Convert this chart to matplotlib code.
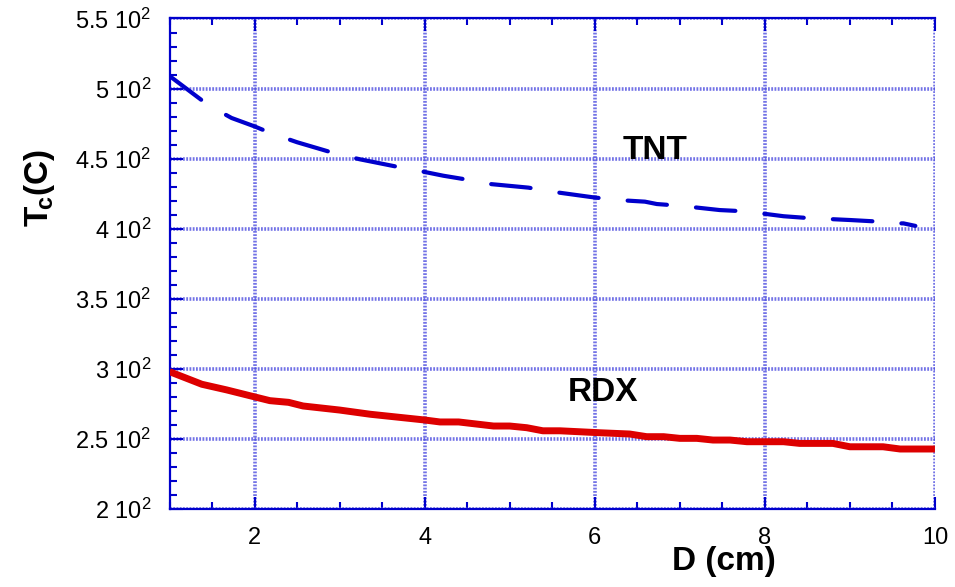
import matplotlib
matplotlib.use("Agg")
import matplotlib.pyplot as plt
from matplotlib.ticker import MultipleLocator, FixedLocator

plt.rcParams['font.family'] = ['Liberation Sans', 'DejaVu Sans']
plt.rcParams['mathtext.fontset'] = 'custom'
plt.rcParams['mathtext.rm'] = 'Liberation Sans'
plt.rcParams['mathtext.it'] = 'Liberation Sans:italic'
plt.rcParams['mathtext.bf'] = 'Liberation Sans:bold'

# Data
tnt_x = [1.0, 1.46, 1.73, 2.0, 2.2, 2.5, 2.97, 3.24, 3.71, 4.0, 4.22, 4.45, 4.75,
         5.22, 5.5, 5.98, 6.26, 6.59, 6.73, 7.0, 7.47, 7.77, 8.22, 8.51, 9.0,
         9.27, 9.39, 9.63, 9.77]
tnt_y = [509, 488, 479, 473, 468, 461.7, 453.3, 449.5, 443.8, 440.5, 437.8, 435.5,
         432, 429.3, 426.4, 422.4, 420.5, 419.3, 417.6, 416.4, 413.3, 412.4, 408.9,
         407.6, 406.2, 405.3, 403.8, 403.8, 402]
rdx_x = [1.0, 1.38, 1.67, 2.0, 2.18, 2.4, 2.57, 3.0, 3.36, 4.0, 4.18, 4.4, 4.81, 5.0,
         5.2, 5.39, 5.59, 6.06, 6.41, 6.61, 6.81, 7.0, 7.2, 7.39, 7.59, 7.79, 8.22,
         8.41, 8.8, 9.0, 9.39, 9.59, 10.0]
rdx_y = [298, 289, 285, 280, 277.3, 276.1, 273.5, 270.6, 267.6, 263.5, 262.1, 262.1,
         259.2, 259.2, 258, 255.8, 255.8, 254.4, 253.5, 251.6, 251.6, 250.4, 250.4,
         249.2, 249.2, 248, 248, 246.8, 246.8, 244.4, 244.4, 242.8, 242.8]
x_ticks = [2, 4, 6, 8, 10]
x_ticklabels = ['2', '4', '6', '8', '10']
y_ticks = [200, 250, 300, 350, 400, 450, 500, 550]
y_ticklabels = ['2 10$^{2}$', '2.5 10$^{2}$', '3 10$^{2}$', '3.5 10$^{2}$',
                '4 10$^{2}$', '4.5 10$^{2}$', '5 10$^{2}$', '5.5 10$^{2}$']

blue = '#0000cc'
grid_c = '#4f4fe0'

fig = plt.figure(figsize=(9.55, 5.87), dpi=100)
ax = fig.add_axes([0.1775, 0.1329, 0.979 - 0.1775, 0.9685 - 0.1329])

ax.set_xlim(1, 10)
ax.set_ylim(200, 550)

ax.plot(rdx_x, rdx_y, color='#dd0000', lw=5, solid_capstyle='butt', zorder=3)
ax.plot(tnt_x, tnt_y, color='#0000cc', lw=3, dashes=(9.5, 7),
        dash_capstyle='round', zorder=3)

ax.xaxis.set_major_locator(FixedLocator(x_ticks))
ax.set_xticklabels(x_ticklabels)
ax.xaxis.set_minor_locator(MultipleLocator(0.5))
ax.yaxis.set_major_locator(FixedLocator(y_ticks))
ax.set_yticklabels(y_ticklabels)
ax.yaxis.set_minor_locator(MultipleLocator(10))

ax.grid(True, which='major', color=grid_c, lw=2.6, linestyle=(0, (0.5, 0.4)), alpha=0.8, zorder=1)
ax.set_axisbelow(True)

for s in ['left', 'bottom', 'top']:
    ax.spines[s].set_color(blue)
    ax.spines[s].set_linewidth(1.6)
ax.spines['right'].set_visible(False)

ax.tick_params(axis='x', which='both', direction='in', top=True, bottom=True, color=blue,
               width=1.5, labelsize=17, pad=13)
ax.tick_params(axis='x', which='major', length=9)
ax.tick_params(axis='x', which='minor', length=5)
ax.tick_params(axis='y', which='both', direction='in', left=True, right=False, color=blue,
               width=1.5, labelsize=17, pad=13)
ax.tick_params(axis='y', which='major', length=9)
ax.tick_params(axis='y', which='minor', length=5)

ax.text(6.33, 449.7, 'TNT', fontsize=24, fontweight='bold', ha='left', va='baseline')
ax.text(5.68, 277, 'RDX', fontsize=24, fontweight='bold', ha='left', va='baseline')

fig.text(0.7037, 0.029, 'D (cm)', fontsize=24, fontweight='bold', ha='left', va='baseline')
fig.text(0.041, 0.679, r'$\mathbf{T_{\!c}(C)}$', fontsize=24, rotation=90, ha='center', va='center')

fig.savefig('out.png', dpi=100)
